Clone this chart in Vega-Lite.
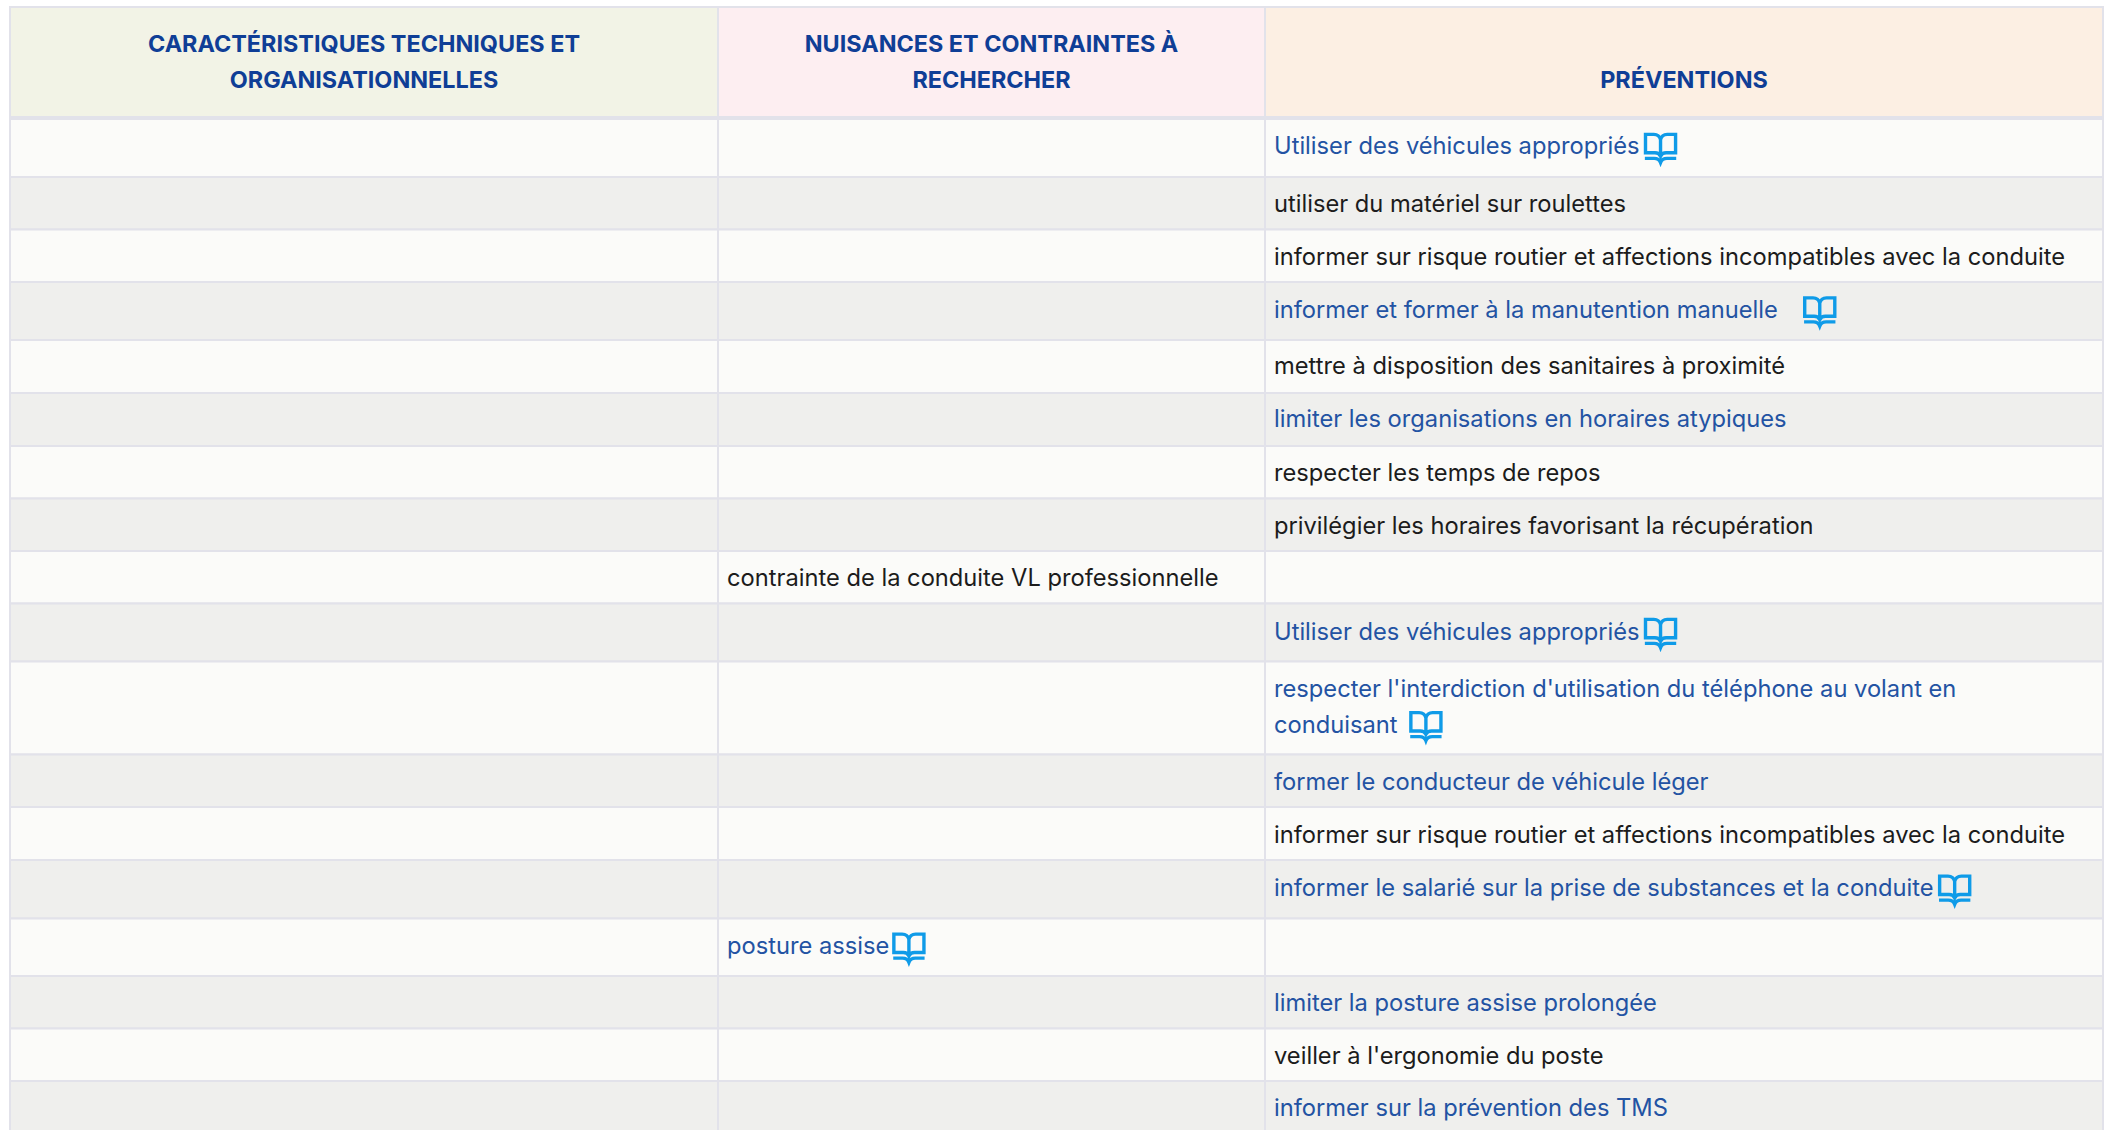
{"$schema":"https://vega.github.io/schema/vega-lite/v6.json","width":2111,"height":1130,"padding":0,"autosize":{"type":"none"},"background":"#ffffff","config":{"view":{"stroke":null}},
"resolve":{"scale":{"color":"independent"}},
"datasets":{
"cells":[
{"row":0,"end":1,"col":0,"colEnd":1,"shade":"h1"},{"row":0,"end":1,"col":1,"colEnd":2,"shade":"h2"},{"row":0,"end":1,"col":2,"colEnd":3,"shade":"h3"},
{"row":1,"end":2,"col":0,"colEnd":1,"shade":"a"},{"row":1,"end":2,"col":1,"colEnd":2,"shade":"a"},{"row":1,"end":2,"col":2,"colEnd":3,"shade":"a"},
{"row":2,"end":3,"col":0,"colEnd":1,"shade":"b"},{"row":2,"end":3,"col":1,"colEnd":2,"shade":"b"},{"row":2,"end":3,"col":2,"colEnd":3,"shade":"b"},
{"row":3,"end":4,"col":0,"colEnd":1,"shade":"a"},{"row":3,"end":4,"col":1,"colEnd":2,"shade":"a"},{"row":3,"end":4,"col":2,"colEnd":3,"shade":"a"},
{"row":4,"end":5,"col":0,"colEnd":1,"shade":"b"},{"row":4,"end":5,"col":1,"colEnd":2,"shade":"b"},{"row":4,"end":5,"col":2,"colEnd":3,"shade":"b"},
{"row":5,"end":6,"col":0,"colEnd":1,"shade":"a"},{"row":5,"end":6,"col":1,"colEnd":2,"shade":"a"},{"row":5,"end":6,"col":2,"colEnd":3,"shade":"a"},
{"row":6,"end":7,"col":0,"colEnd":1,"shade":"b"},{"row":6,"end":7,"col":1,"colEnd":2,"shade":"b"},{"row":6,"end":7,"col":2,"colEnd":3,"shade":"b"},
{"row":7,"end":8,"col":0,"colEnd":1,"shade":"a"},{"row":7,"end":8,"col":1,"colEnd":2,"shade":"a"},{"row":7,"end":8,"col":2,"colEnd":3,"shade":"a"},
{"row":8,"end":9,"col":0,"colEnd":1,"shade":"b"},{"row":8,"end":9,"col":1,"colEnd":2,"shade":"b"},{"row":8,"end":9,"col":2,"colEnd":3,"shade":"b"},
{"row":9,"end":10,"col":0,"colEnd":1,"shade":"a"},{"row":9,"end":10,"col":1,"colEnd":2,"shade":"a"},{"row":9,"end":10,"col":2,"colEnd":3,"shade":"a"},
{"row":10,"end":11,"col":0,"colEnd":1,"shade":"b"},{"row":10,"end":11,"col":1,"colEnd":2,"shade":"b"},{"row":10,"end":11,"col":2,"colEnd":3,"shade":"b"},
{"row":11,"end":12,"col":0,"colEnd":1,"shade":"a"},{"row":11,"end":12,"col":1,"colEnd":2,"shade":"a"},{"row":11,"end":12,"col":2,"colEnd":3,"shade":"a"},
{"row":12,"end":13,"col":0,"colEnd":1,"shade":"b"},{"row":12,"end":13,"col":1,"colEnd":2,"shade":"b"},{"row":12,"end":13,"col":2,"colEnd":3,"shade":"b"},
{"row":13,"end":14,"col":0,"colEnd":1,"shade":"a"},{"row":13,"end":14,"col":1,"colEnd":2,"shade":"a"},{"row":13,"end":14,"col":2,"colEnd":3,"shade":"a"},
{"row":14,"end":15,"col":0,"colEnd":1,"shade":"b"},{"row":14,"end":15,"col":1,"colEnd":2,"shade":"b"},{"row":14,"end":15,"col":2,"colEnd":3,"shade":"b"},
{"row":15,"end":16,"col":0,"colEnd":1,"shade":"a"},{"row":15,"end":16,"col":1,"colEnd":2,"shade":"a"},{"row":15,"end":16,"col":2,"colEnd":3,"shade":"a"},
{"row":16,"end":17,"col":0,"colEnd":1,"shade":"b"},{"row":16,"end":17,"col":1,"colEnd":2,"shade":"b"},{"row":16,"end":17,"col":2,"colEnd":3,"shade":"b"},
{"row":17,"end":18,"col":0,"colEnd":1,"shade":"a"},{"row":17,"end":18,"col":1,"colEnd":2,"shade":"a"},{"row":17,"end":18,"col":2,"colEnd":3,"shade":"a"},
{"row":18,"end":19,"col":0,"colEnd":1,"shade":"b"},{"row":18,"end":19,"col":1,"colEnd":2,"shade":"b"},{"row":18,"end":19,"col":2,"colEnd":3,"shade":"b"}
],
"headers":[
{"mid":0.5,"col":0.5,"text":"CARACTÉRISTIQUES TECHNIQUES ET\nORGANISATIONNELLES"},
{"mid":0.5,"col":1.5,"text":"NUISANCES ET CONTRAINTES À\nRECHERCHER"},
{"mid":0.5,"col":2.5,"text":"\nPRÉVENTIONS"}
],
"texts":[
{"mid":1.466,"col":2,"kind":"lien","text":"Utiliser des véhicules appropriés"},
{"mid":2.5,"col":2,"kind":"texte","text":"utiliser du matériel sur roulettes"},
{"mid":3.5,"col":2,"kind":"texte","text":"informer sur risque routier et affections incompatibles avec la conduite"},
{"mid":4.466,"col":2,"kind":"lien","text":"informer et former à la manutention manuelle"},
{"mid":5.48,"col":2,"kind":"texte","text":"mettre à disposition des sanitaires à proximité"},
{"mid":6.48,"col":2,"kind":"lien","text":"limiter les organisations en horaires atypiques"},
{"mid":7.5,"col":2,"kind":"texte","text":"respecter les temps de repos"},
{"mid":8.5,"col":2,"kind":"texte","text":"privilégier les horaires favorisant la récupération"},
{"mid":9.5,"col":1,"kind":"texte","text":"contrainte de la conduite VL professionnelle"},
{"mid":10.466,"col":2,"kind":"lien","text":"Utiliser des véhicules appropriés"},
{"mid":11.285,"col":2,"kind":"lien","text":"respecter l'interdiction d'utilisation du téléphone au volant en\nconduisant"},
{"mid":12.5,"col":2,"kind":"lien","text":"former le conducteur de véhicule léger"},
{"mid":13.5,"col":2,"kind":"texte","text":"informer sur risque routier et affections incompatibles avec la conduite"},
{"mid":14.466,"col":2,"kind":"lien","text":"informer le salarié sur la prise de substances et la conduite"},
{"mid":15.466,"col":1,"kind":"lien","text":"posture assise"},
{"mid":16.5,"col":2,"kind":"lien","text":"limiter la posture assise prolongée"},
{"mid":17.5,"col":2,"kind":"texte","text":"veiller à l'ergonomie du poste"},
{"mid":18.5,"col":2,"kind":"lien","text":"informer sur la prévention des TMS"}
],
"icons":[
{"at":2.472,"mid":1.5},
{"at":2.662,"mid":4.5},
{"at":2.472,"mid":10.5},
{"at":2.192,"mid":11.69},
{"at":2.823,"mid":14.5},
{"at":1.349,"mid":15.5}
]
},
"layer":[
{"data":{"name":"cells"},"mark":{"type":"rect","stroke":"#e2e2ea","strokeWidth":2,"clip":true},
"encoding":{
"x":{"field":"col","type":"quantitative","axis":null,"scale":{"domain":[0,1,2,3],"range":[10,718,1265,2103],"nice":false,"zero":false}},
"x2":{"field":"colEnd"},
"y":{"field":"row","type":"quantitative","axis":null,"scale":{"domain":[0,1,2,3,4,5,6,7,8,9,10,11,12,13,14,15,16,17,18,19],"range":[7,118,177,229.5,282,340,393,446,498.5,551,603.5,661.5,754.5,807,860,918.5,976,1028.5,1081,1133],"nice":false,"zero":false}},
"y2":{"field":"end"},
"color":{"field":"shade","type":"nominal","legend":null,"scale":{"domain":["h1","h2","h3","a","b"],"range":["#f2f3e6","#fdeef1","#fcefe3","#fbfbf9","#efefed"]}}
}},
{"mark":{"type":"rule","stroke":"#e2e2ea","strokeWidth":4},"data":{"values":[{"row":1,"from":0,"to":3}]},
"encoding":{"x":{"field":"from","type":"quantitative"},"x2":{"field":"to"},"y":{"field":"row","type":"quantitative"}}},
{"data":{"name":"headers"},"mark":{"type":"text","align":"center","baseline":"middle","dy":-17.5,"font":"Inter","fontWeight":700,"fontSize":23.4,"lineBreak":"\n","lineHeight":35.5,"fill":"#0f3e96"},
"encoding":{"x":{"field":"col","type":"quantitative"},"y":{"field":"mid","type":"quantitative"},"text":{"field":"text"}}},
{"data":{"name":"texts"},"mark":{"type":"text","align":"left","baseline":"middle","dx":9,"dy":2,"font":"Inter","fontSize":23.7,"lineBreak":"\n","lineHeight":35.5},
"encoding":{"x":{"field":"col","type":"quantitative"},"y":{"field":"mid","type":"quantitative"},"text":{"field":"text"},
"color":{"field":"kind","type":"nominal","legend":null,"scale":{"domain":["lien","texte"],"range":["#2353a3","#1c1c1c"]}}}},
{"data":{"name":"icons"},"mark":{"type":"point","filled":false,"stroke":"#0f9be8","strokeWidth":3.4,"opacity":1,"size":1024,"yOffset":1,"shape":"M -0.94 -0.88 H -0.42 Q -0.08 -0.88 0 -0.55 Q 0.08 -0.88 0.42 -0.88 H 0.94 V 0.27 H 0.35 Q 0.1 0.27 0 0.48 Q -0.1 0.27 -0.35 0.27 H -0.94 Z M 0 -0.55 V 0.45 M -0.98 0.62 H -0.4 Q -0.1 0.62 0 0.88 Q 0.1 0.62 0.4 0.62 H 0.98"},
"encoding":{"x":{"field":"at","type":"quantitative"},"y":{"field":"mid","type":"quantitative"}}}
]}
